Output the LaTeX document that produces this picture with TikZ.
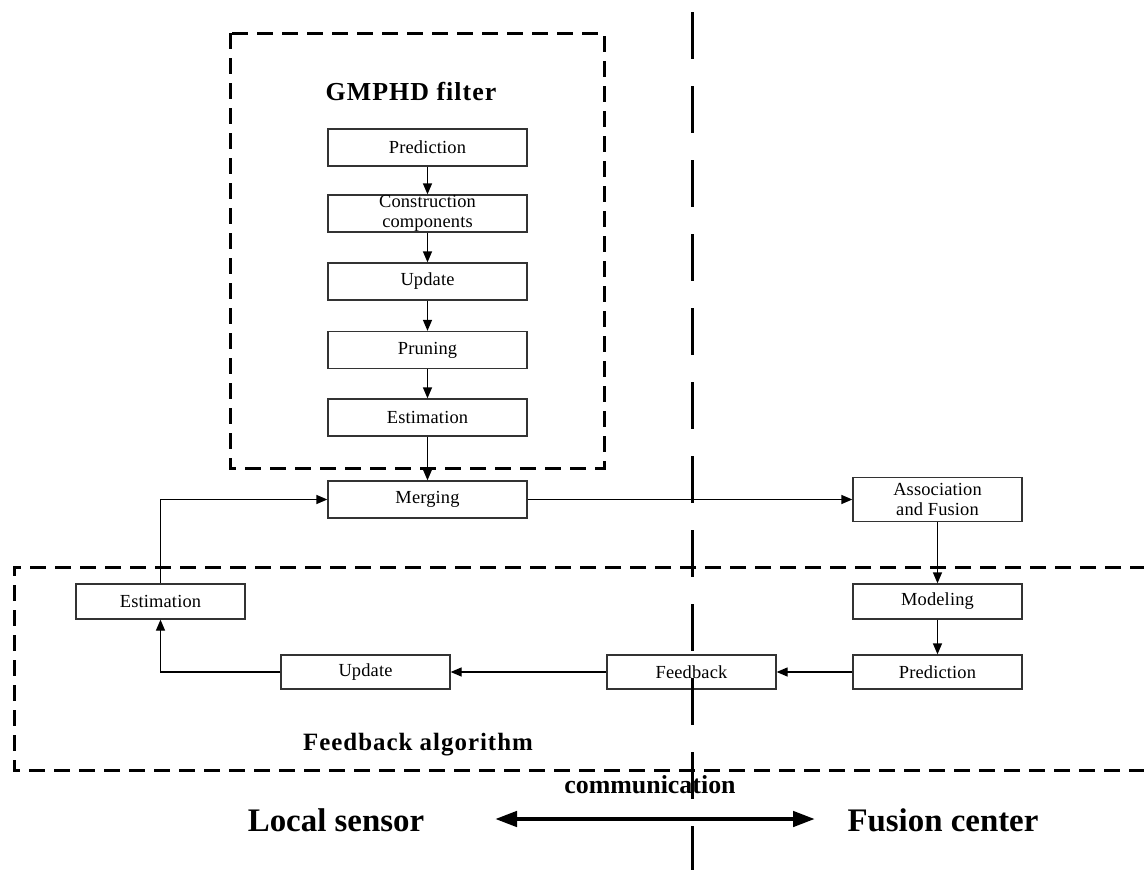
\documentclass[tikz,border=0pt]{standalone}
\usepackage{fontspec}
\setmainfont{Liberation Serif}
\newfontfamily\boxfont{Liberation Serif}[LetterSpace=0.8]
\newfontfamily\titlefont{Liberation Serif}[LetterSpace=4]
\newfontfamily\bottomfont{Liberation Serif}
\usetikzlibrary{arrows.meta}
\begin{document}
\begin{tikzpicture}[x=1bp,y=-1bp,
  box/.style={draw=black!80, line width=1.3bp, fill=white, minimum width=199bp,
    minimum height=37bp, inner sep=0pt, align=center,
    font=\boxfont\fontsize{18.5}{19.5}\selectfont},
  sbox/.style={box, minimum width=169bp, minimum height=35bp},
  arr/.style={line width=1.3bp, -{Triangle[length=11bp,width=9bp]}},
  dbox/.style={line width=3bp, dash pattern=on 16bp off 9bp},
  axisline/.style={line width=3bp, dash pattern=on 47bp off 27bp},
  title/.style={inner sep=0pt, font=\titlefont\bfseries\fontsize{26}{30}\selectfont},
  big/.style={inner sep=0pt, font=\bottomfont\bfseries\fontsize{33}{38}\selectfont}
]
\useasboundingbox (0,0) rectangle (1144,870);

% dashed regions
\draw[dbox] (230,33) rectangle (604,468);
\draw[dbox] (1146,567) -- (14,567) -- (14,770) -- (1146,770);

% titles
\node[title] (gt) at (411,92) {GMPHD filter};
\node[title, font=\titlefont\bfseries\fontsize{25}{29}\selectfont] (ft) at (418,745) {Feedback algorithm};

% GMPHD chain
\node[box] (p1) at (427.5,147.5) {Prediction};
\node[box] (c1) at (427.5,213.5) {Construction\\components};
\node[box] (u1) at (427.5,281.5) {Update};
\node[box] (r1) at (427.5,350) {Pruning};
\node[box] (e1) at (427.5,417.5) {Estimation};
\node[box] (m) at (427.5,499.5) {Merging};

% fusion side
\node[sbox, minimum height=44bp] (a) at (937.5,499.5) {Association\\and Fusion};
\node[sbox] (mo) at (937.5,601.5) {Modeling};
\node[sbox, minimum height=34bp] (p2) at (937.5,672) {Prediction};
\node[sbox, minimum height=34bp] (fb) at (691.5,672) {Feedback};
\node[sbox, minimum height=34bp] (u2) at (365.5,672) {Update};
\node[sbox] (e2) at (160.5,601.5) {Estimation};

% connectors
\draw[arr] (p1) -- (c1);
\draw[arr] (c1) -- (u1);
\draw[arr] (u1) -- (r1);
\draw[arr] (r1) -- (e1);
\draw[arr] (e1) -- (m);
\draw[arr] (m.east) -- (a.west);
\draw[arr] (a) -- (mo);
\draw[arr] (mo) -- (p2);
\draw[arr] (p2.west) -- (fb.east);
\draw[arr] (fb.west) -- (u2.east);
\draw[arr] (u2.west) -| (e2.south);
\draw[arr] (e2.north) |- (m.west);

% bottom labels
\node[big] (ls) at (336,820) {Local sensor};
\node[big] (fc) at (943,820) {Fusion center};
\node[inner sep=0pt, font=\bottomfont\bfseries\fontsize{26}{30}\selectfont] (cm) at (650,785) {communication};
\coordinate (cl) at (495,819);
\coordinate (cr) at (815,819);
\draw[line width=4.5bp, {Triangle[length=22bp,width=15bp]}-{Triangle[length=22bp,width=15bp]}] (cl) -- (cr);

% dividing line
\coordinate (vt) at (692,12);
\coordinate (vb) at (692,872);
\draw[axisline] (vt) -- (vb);
\end{tikzpicture}
\end{document}
